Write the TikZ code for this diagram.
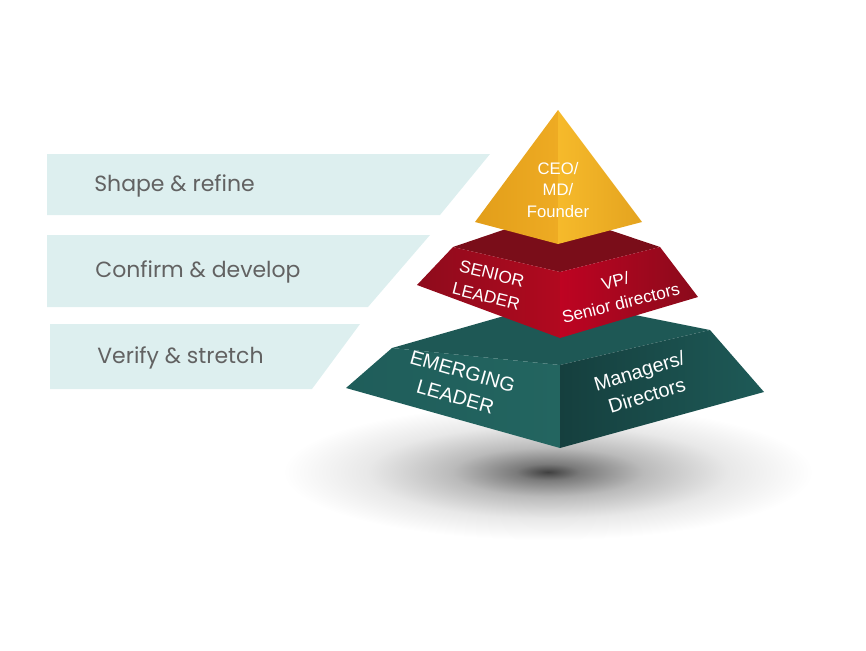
\documentclass[tikz,border=0pt]{standalone}
\usepackage{fontspec}
\setmainfont{Liberation Sans}
\newfontfamily\bannerfont{Poppins}
\usetikzlibrary{positioning}

\definecolor{bannerfill}{HTML}{DDEFEF}
\definecolor{bannertext}{HTML}{626262}
\definecolor{goldA}{HTML}{E29E1A}
\definecolor{goldB}{HTML}{EEAB23}
\definecolor{goldC}{HTML}{F6BA2B}
\definecolor{goldD}{HTML}{E4A31F}
\definecolor{redtop}{HTML}{7A0D19}
\definecolor{redA}{HTML}{8E0B1C}
\definecolor{redB}{HTML}{B1091F}
\definecolor{redC}{HTML}{BE0322}
\definecolor{redD}{HTML}{8A0B1B}
\definecolor{tealtop}{HTML}{1E5855}
\definecolor{tealA}{HTML}{1F5D5A}
\definecolor{tealB}{HTML}{236560}
\definecolor{tealC}{HTML}{153F3E}
\definecolor{tealD}{HTML}{1E5A57}

\pgfdeclareradialshading{floorshadow}{\pgfpoint{0bp}{0bp}}{%
  color(0bp)=(black!75); color(3bp)=(black!52); color(9bp)=(black!27);
  color(17bp)=(black!9); color(25bp)=(white); color(50bp)=(white)}

\begin{document}
\begin{tikzpicture}[x=0.02cm,y=-0.02cm,
  banner/.style={fill=bannerfill},
  bannerlabel/.style={anchor=west,inner sep=0pt,text=bannertext,
    font=\bannerfont\fontsize{12.5}{15}\selectfont},
  facelabel/.style={text=white,align=center,inner sep=0pt}]
  \useasboundingbox (0,0) rectangle (866,650);

  % Shadow under the pyramid
  \shade[shading=floorshadow] (548,472) ellipse [x radius=265, y radius=68];

  % Banners
  \fill[banner] (47,154) -- (490,154) -- (440,215) -- (47,215) -- cycle;
  \fill[banner] (47,235) -- (430,235) -- (368,307) -- (47,307) -- cycle;
  \fill[banner] (50,324) -- (360,324) -- (312,389) -- (50,389) -- cycle;
  \node[bannerlabel] (refine) at (94,186) {Shape \& refine};
  \node[bannerlabel] (develop) at (95,272) {Confirm \& develop};
  \node[bannerlabel] (stretch) at (97,358) {Verify \& stretch};

  % Bottom tier
  \fill[tealtop] (392,348) -- (560,300) -- (710,330) -- (560,365) -- cycle;
  \shade[left color=tealA,right color=tealB] (392,348) -- (560,365) -- (560,448) -- (346,388) -- cycle;
  \shade[left color=tealC,right color=tealD] (560,365) -- (710,330) -- (764,392) -- (560,448) -- cycle;

  % Middle tier
  \fill[redtop] (453,247) -- (556,212) -- (660,247) -- (560,272) -- cycle;
  \shade[left color=redA,right color=redB] (453,247) -- (560,272) -- (560,338) -- (417,285) -- cycle;
  \shade[left color=redC,right color=redD] (560,272) -- (660,247) -- (698,297) -- (560,338) -- cycle;

  % Top tier
  \shade[left color=goldA,right color=goldB] (558,110) -- (558,244) -- (475,222) -- cycle;
  \shade[left color=goldC,right color=goldD] (558,110) -- (642,222) -- (558,244) -- cycle;

  % Face labels
  \node[facelabel,font=\fontsize{9.5}{12.4}\selectfont] (ceo) at (558,190) {CEO/\\MD/\\Founder};
  \node[facelabel,rotate=-14,font=\fontsize{9.8}{13.4}\selectfont] (senior) at (489,285) {SENIOR\\LEADER};
  \node[facelabel,rotate=14,font=\fontsize{9.8}{13}\selectfont] (vp) at (618,292) {VP/\\Senior directors};
  \node[facelabel,rotate=-16,font=\fontsize{11.3}{15}\selectfont] (emerging) at (459,384) {EMERGING\\LEADER};
  \node[facelabel,rotate=17,font=\fontsize{11.3}{14.5}\selectfont] (managers) at (643,383) {Managers/\\Directors};
\end{tikzpicture}
\end{document}
